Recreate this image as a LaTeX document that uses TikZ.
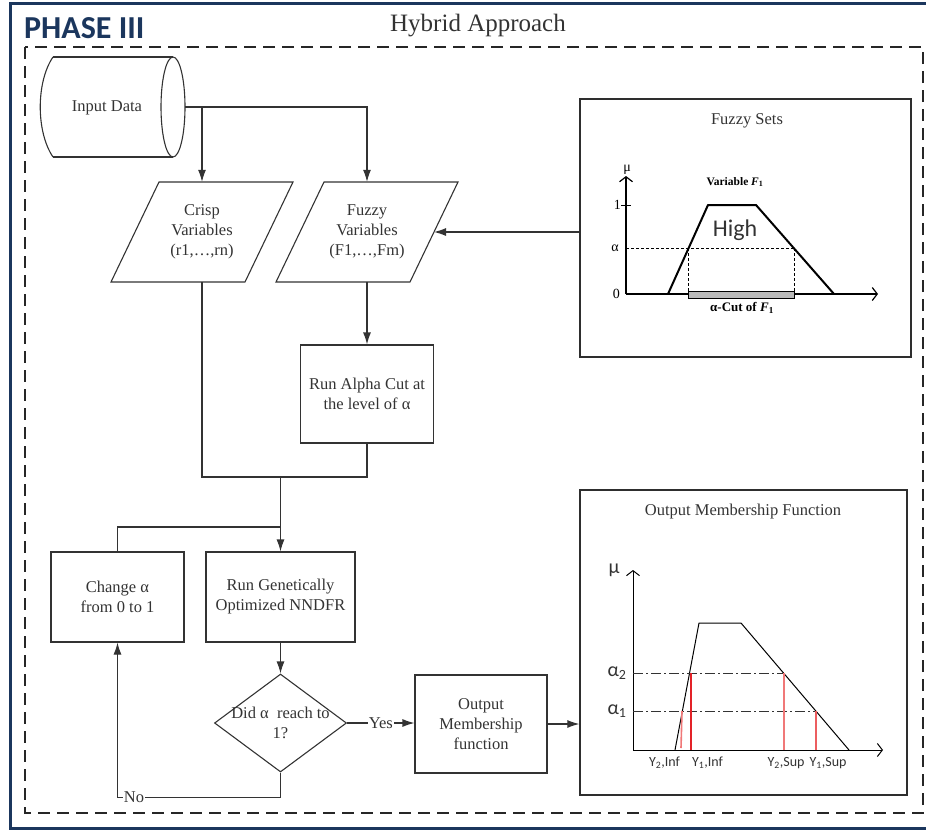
\documentclass[tikz,border=0pt]{standalone}
\usepackage{fontspec}
\setmainfont{Liberation Serif}
\newfontfamily\calibri{Carlito}
\usetikzlibrary{arrows.meta,shapes.geometric}
\definecolor{navy}{HTML}{1B365D}
\definecolor{ink}{HTML}{333333}
\definecolor{pinkred}{HTML}{F07878}
\definecolor{redline}{HTML}{E32228}
\begin{document}
\begin{tikzpicture}[x=1pt,y=-1pt,
  line/.style={draw=ink,line width=1.1pt},
  arr/.style={line,-{Latex[length=12pt,width=8pt]}},
  txt/.style={align=center,text=ink,inner sep=0pt,font=\fontsize{16.5}{20}\selectfont},
  box/.style={txt,draw=ink,line width=1.1pt},
  panel/.style={draw=ink!90!black,line width=1.3pt,inner sep=0pt},
  axis/.style={draw=black,line width=1.2pt,-{Straight Barb[length=5pt,width=13pt]}},
  small/.style={inner sep=0pt,text=black,font=\fontsize{14}{16}\selectfont},
  sans/.style={inner sep=0pt,text=ink,font=\calibri\fontsize{14}{16}\selectfont},
  yeslabel/.style={txt,fill=white,inner sep=1pt}]
\useasboundingbox (0,0) rectangle (926,830);

% outer frame and dashed phase border
\draw[navy,line width=3pt] (10.5,3) rectangle (960,828);
\draw[draw=black!85,line width=2pt,dash pattern=on 12pt off 7pt] (25,47) rectangle (923,813);
\node[anchor=base west,inner sep=0pt,text=navy,font=\calibri\bfseries\fontsize{32}{36}\selectfont] (phase) at (24,38) {PHASE III};
\node[anchor=base,inner sep=0pt,text=ink,font=\fontsize{25}{30}\selectfont] (title) at (478,31) {Hybrid Approach};

% input data store
\node[minimum width=143pt,minimum height=100pt,inner sep=0pt] (input) at (113.5,107) {};
\draw[line] (53,57) -- (173,57) (53,157) -- (173,157);
\draw[line] (53,57) .. controls (36,82) and (36,132) .. (53,157);
\draw[line] (173,107) ellipse [x radius=12, y radius=50];
\node[txt] (inputtext) at (107,108) {Input Data};

% crisp and fuzzy variables (parallelograms)
\draw[line] (159,182) -- (293,182) -- (245,282) -- (111,282) -- cycle;
\node[txt,minimum height=100pt] (crisp) at (202,232) {Crisp\\Variables\\(r1,…,rn)};
\draw[line] (324,182) -- (458,182) -- (410,282) -- (276,282) -- cycle;
\node[txt,minimum height=100pt] (fuzzy) at (367,232) {Fuzzy\\Variables\\(F1,…,Fm)};
\coordinate (fuzzyR) at (434,232);

% process boxes
\node[box,minimum width=133pt,minimum height=98pt] (runalpha) at (367,394) {Run Alpha Cut at\\the level of α};
\node[box,minimum width=133pt,minimum height=90pt] (change) at (117.5,597) {Change α\\from 0 to 1};
\node[box,minimum width=149pt,minimum height=90pt] (rungen) at (280.5,597) {Run Genetically\\Optimized NNDFR};
\node[diamond,draw=ink,line width=1.1pt,minimum width=132pt,minimum height=98pt,inner sep=0pt] (decision) at (280.5,723) {};
\node[txt] (dectext) at (decision.center) {Did α\ \ reach to\\1?};
\node[box,minimum width=132pt,minimum height=98pt] (outbox) at (481,724) {Output\\Membership\\function};

% connectors
\draw[arr] (input.east) -| (fuzzy.north);
\draw[arr] (input.east -| crisp.north) -- (crisp.north);
\draw[arr] (fuzzy.south) -- (runalpha.north);
\coordinate (merge) at (280.5,477);
\draw[line] (crisp.south) |- (merge);
\draw[line] (runalpha.south) |- (merge);
\draw[arr] (merge) -- (rungen.north);
\coordinate (join) at (280.5,527);
\draw[line] (change.north) |- (join);
\draw[arr] (rungen.south) -- (decision.north);
\draw[arr] (decision.east) -- node[yeslabel] (yes) {Yes} (decision.east -| outbox.west);
\path (change.south) ++(0,155) coordinate (nocorner);
\draw[arr] (decision.south) |- (nocorner) -- (change.south);
\node[yeslabel] (no) at (134,797) {No};

% fuzzy sets panel
\node[panel,minimum width=331pt,minimum height=258pt] (fsbox) at (745.5,228) {};
\draw[arr] (fsbox.west |- fuzzyR) -- (fuzzyR);
\node[txt] (fstitle) at (747,121) {Fuzzy Sets};
\draw[axis] (626,294) -- (626,176);
\draw[axis] (626,294) -- (878,294);
\draw[black,line width=0.9pt] (621,205) -- (631,205);
\node[small,anchor=east] (fone) at (621,205) {1};
\node[small,anchor=east] (falpha) at (619,248) {α};
\node[small,anchor=east] (fzero) at (620,294) {0};
\node[small] (fmu) at (627,170) {μ};
\draw[black,line width=2pt,line join=round] (668,294) -- (708,205) -- (756,205) -- (834,294);
\draw[black,line width=0.8pt,dash pattern=on 3pt off 2pt] (626,248) -- (794,248)
  (688,248) -- (688,291) (794,248) -- (794,291);
\draw[black,line width=0.8pt,fill=gray!55] (688,291) rectangle (794,298);
\node[small,font=\bfseries\fontsize{11.5}{13}\selectfont] (fvar) at (735,182) {Variable {\itshape F}\textsubscript{1}};
\node[inner sep=0pt,text=ink,font=\calibri\fontsize{24}{28}\selectfont] (fhigh) at (735,230) {High};
\node[small,font=\bfseries\fontsize{13}{15}\selectfont] (fcut) at (742,308) {α-Cut of {\itshape F}\textsubscript{1}};

% output membership function panel
\node[panel,minimum width=327pt,minimum height=305pt] (outmf) at (743.5,642.5) {};
\draw[arr] (outbox.east) -- (outbox.east -| outmf.west);
\node[txt] (omtitle) at (743,512) {Output Membership Function};
\draw[axis,line width=1pt] (633,750) -- (633,570);
\draw[axis,line width=1pt] (633,750) -- (883,750);
\node[sans,font=\calibri\fontsize{20}{22}\selectfont] (omu) at (614,570) {μ};
\draw[black,line width=1pt,line join=round] (675,750) -- (699,623) -- (741,623) -- (849,750);
\draw[ink,line width=0.9pt,dash pattern=on 10pt off 3pt on 2pt off 3pt] (633,673) -- (784,673);
\draw[ink,line width=0.9pt,dash pattern=on 10pt off 3pt on 2pt off 3pt] (633,711) -- (816,711);
\node[sans,font=\calibri\fontsize{20}{22}\selectfont] (oa2) at (617,673) {α\textsubscript{2}};
\node[sans,font=\calibri\fontsize{20}{22}\selectfont] (oa1) at (617,711) {α\textsubscript{1}};
\draw[pinkred,line width=1.6pt] (682,711) -- (681,748);
\draw[redline,line width=1.3pt] (691,673) -- (691,750);
\draw[pinkred,line width=1.6pt] (784,673) -- (784,750);
\draw[pinkred!70!redline,line width=1.3pt] (816,711) -- (816,750);
\node[sans] (y2inf) at (664.5,763) {Y\textsubscript{2},Inf};
\node[sans] (y1inf) at (707.5,763) {Y\textsubscript{1},Inf};
\node[sans] (y2sup) at (786,763) {Y\textsubscript{2},Sup};
\node[sans] (y1sup) at (828,763) {Y\textsubscript{1},Sup};
\end{tikzpicture}
\end{document}
